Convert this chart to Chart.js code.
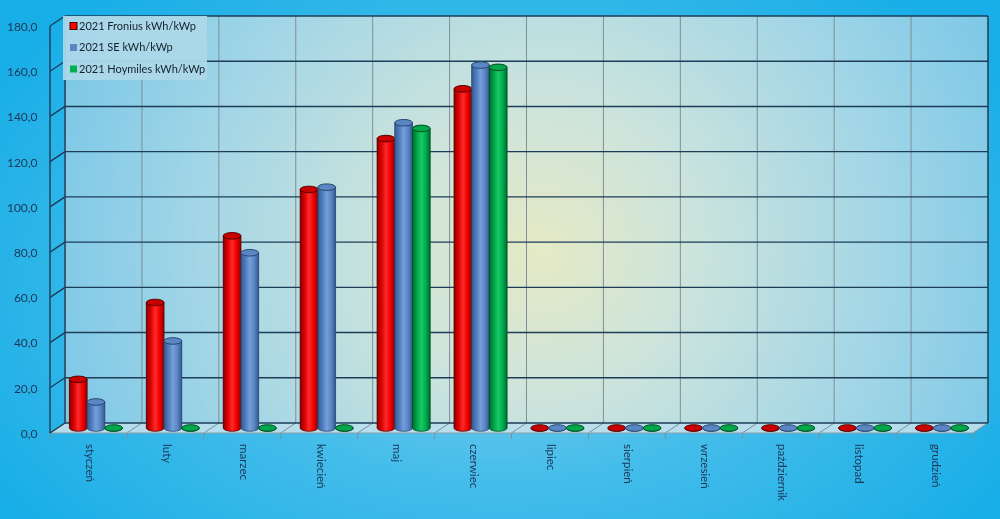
<!DOCTYPE html>
<html lang="pl">
<head>
<meta charset="utf-8">
<title>Uzysk kWh/kWp 2021</title>
<script src="https://cdn.jsdelivr.net/npm/chart.js@4.4.1/dist/chart.umd.min.js"></script>
<style>
  html, body { margin: 0; padding: 0; overflow: hidden; }
  #wrap {
    width: 1000px; height: 519px; position: relative;
    background: radial-gradient(ellipse 60% 75% at 50% 55%, #86d2ef 0%, #45bdea 50%, #18aee7 100%);
  }
  canvas { display: block; }
</style>
</head>
<body>
<div id="wrap"><canvas id="c" width="1000" height="519"></canvas></div>
<script>
// Miesiące i uzysk energii na kWp zainstalowanej mocy
const months = ['styczeń', 'luty', 'marzec', 'kwiecień', 'maj', 'czerwiec',
                'lipiec', 'sierpień', 'wrzesień', 'październik', 'listopad', 'grudzień'];
const fronius  = [21.5, 55.5, 85.0, 105.5, 128.0, 150.0, 0, 0, 0, 0, 0, 0];
const se       = [11.5, 38.5, 77.5, 106.5, 135.0, 160.5, 0, 0, 0, 0, 0, 0];
const hoymiles = [0, 0, 0, 0, 132.5, 159.5, 0, 0, 0, 0, 0, 0];
const seriesLabels = ['2021 Fronius kWh/kWp', '2021 SE kWh/kWp', '2021 Hoymiles kWh/kWp'];
const yMin = 0, yMax = 180, yStep = 20;

// Wygląd serii: kolor bazowy, cieniowanie walca, denko
const looks = [
  { base: '#ff0000', stops: ['#8c0000', '#d80000', '#ff2a2a', '#f20000', '#900000'], cap: '#c80000', edge: '#5a0000' },
  { base: '#5b86c6', stops: ['#345a92', '#4f7bbd', '#739fdb', '#5a86c5', '#33588f'], cap: '#5a86c4', edge: '#28466f' },
  { base: '#00b050', stops: ['#006e30', '#00a348', '#18c865', '#00ad4e', '#006a2e'], cap: '#00a64a', edge: '#004d20' }
];

// Przesunięcie głębi: tylna ściana i przednia krawędź względem płaszczyzny słupków
const DX = 7.5, DY = 5;
const FONT = 'Lato, "Open Sans", sans-serif';
const TEXT = '#1d3656';

const fmt = v => v.toFixed(1).replace('.', ',');

// Tło wykresu: tylna ściana, siatka, podłoga
const wallsPlugin = {
  id: 'walls',
  beforeDatasetsDraw(chart) {
    const { ctx, chartArea: ca } = chart;
    const ys = chart.scales.y, xs = chart.scales.x;
    const y0 = ys.getPixelForValue(yMin), yT = ys.getPixelForValue(yMax);
    const L = ca.left + DX, R = ca.right + DX, T = yT - DY, B = y0 - DY;
    ctx.save();
    // tylna ściana
    const g = ctx.createRadialGradient(540, 250, 10, 540, 250, 560);
    g.addColorStop(0, '#e4e9c6');
    g.addColorStop(0.25, '#cde4dc');
    g.addColorStop(0.6, '#a3d6e6');
    g.addColorStop(1, '#6fc3e8');
    ctx.fillStyle = g;
    ctx.fillRect(L, T, R - L, B - T);

    // podłoga
    ctx.beginPath();
    ctx.moveTo(L, B); ctx.lineTo(R, B);
    ctx.lineTo(ca.right - DX, y0 + DY); ctx.lineTo(ca.left - DX, y0 + DY);
    ctx.closePath();
    ctx.fillStyle = 'rgba(205,228,236,0.85)';
    ctx.fill();

    // pionowe linie siatki (granice kategorii)
    const step = (ca.right - ca.left) / months.length;
    ctx.strokeStyle = '#7f8f96';
    ctx.lineWidth = 1;
    for (let i = 0; i <= months.length; i++) {
      const xb = (i < months.length ? xs.getPixelForValue(i) - step / 2 : xs.getPixelForValue(i - 1) + step / 2);
      ctx.beginPath();
      ctx.moveTo(xb + DX, T); ctx.lineTo(xb + DX, B);
      ctx.stroke();
      // podział podłogi i znaczniki na przedniej krawędzi
      ctx.beginPath();
      ctx.moveTo(xb + DX, B); ctx.lineTo(xb - DX, y0 + DY); ctx.lineTo(xb - DX, y0 + DY + 6);
      ctx.stroke();
    }
    // krawędzie podłogi
    ctx.strokeStyle = '#8d9ea6';
    ctx.beginPath();
    ctx.moveTo(ca.left - DX, y0 + DY); ctx.lineTo(ca.right - DX, y0 + DY); ctx.lineTo(R, B);
    ctx.stroke();

    // poziome linie siatki na ścianie tylnej i ich łączniki po lewej stronie
    ctx.strokeStyle = '#1c3c58';
    ctx.lineWidth = 1.4;
    ys.ticks.forEach(t => {
      const p = ys.getPixelForValue(t.value);
      ctx.beginPath();
      ctx.moveTo(L, p - DY); ctx.lineTo(R, p - DY);
      ctx.stroke();
      ctx.beginPath();
      ctx.moveTo(ca.left - DX, p + DY); ctx.lineTo(L, p - DY);
      ctx.stroke();
    });
    // krawędzie: oś przednia, lewa i prawa krawędź ściany
    ctx.beginPath();
    ctx.moveTo(ca.left - DX, yT + DY); ctx.lineTo(ca.left - DX, y0 + DY);
    ctx.moveTo(L, T); ctx.lineTo(L, B);
    ctx.moveTo(R, T); ctx.lineTo(R, B);
    ctx.stroke();
    ctx.restore();
  }
};

// Słupki w kształcie walców, rysowane na elementach słupków biblioteki
const cylinderPlugin = {
  id: 'cylinders',
  afterDatasetsDraw(chart) {
    const ctx = chart.ctx;
    chart.data.datasets.forEach((ds, di) => {
      const meta = chart.getDatasetMeta(di);
      const look = looks[di];
      meta.data.forEach(el => {
        const { x, y, base, width } = el.getProps(['x', 'y', 'base', 'width'], true);
        const rx = width / 2, ry = 3.3;
        const left = x - rx, right = x + rx;
        ctx.save();
        const g = ctx.createLinearGradient(left, 0, right, 0);
        look.stops.forEach((c, k) => g.addColorStop(k / (look.stops.length - 1), c));
        ctx.beginPath();
        ctx.moveTo(left, y);
        ctx.lineTo(left, base);
        ctx.ellipse(x, base, rx, ry, 0, Math.PI, 0, true);
        ctx.lineTo(right, y);
        ctx.closePath();
        ctx.fillStyle = g;
        ctx.fill();
        ctx.strokeStyle = look.edge;
        ctx.lineWidth = 0.8;
        ctx.stroke();
        // denko górne
        ctx.beginPath();
        ctx.ellipse(x, y, rx, ry, 0, 0, Math.PI * 2);
        ctx.fillStyle = look.cap;
        ctx.fill();
        ctx.strokeStyle = look.edge;
        ctx.lineWidth = 1;
        ctx.stroke();
        ctx.restore();
      });
    });
  }
};

// Podpisy osi: wartości po lewej i miesiące obrócone o 90°
const axisLabelsPlugin = {
  id: 'axisLabels',
  afterDraw(chart) {
    const ctx = chart.ctx, xs = chart.scales.x, ys = chart.scales.y;
    const ca = chart.chartArea;
    ctx.save();
    ctx.fillStyle = TEXT;
    // wartości osi Y na przedniej krawędzi
    ctx.font = '12px ' + FONT;
    ctx.textAlign = 'right';
    ctx.textBaseline = 'middle';
    ys.ticks.forEach(t => {
      ctx.fillText(fmt(t.value), ca.left - 20, ys.getPixelForValue(t.value) + DY + 1);
    });
    // miesiące
    const top = ys.getPixelForValue(yMin) + DY + 11;
    ctx.font = '11.5px ' + FONT;
    ctx.textAlign = 'left';
    months.forEach((m, i) => {
      ctx.save();
      ctx.translate(xs.getPixelForValue(i) - DX + 1, top);
      ctx.rotate(Math.PI / 2);
      ctx.fillText(m, 0, 0);
      ctx.restore();
    });
    ctx.restore();
  }
};

// Legenda w lewym górnym rogu obszaru wykresu
const legendPlugin = {
  id: 'boxLegend',
  afterDraw(chart) {
    const ctx = chart.ctx;
    const bx = 63, by = 16, bw = 144, bh = 64;
    ctx.save();
    ctx.fillStyle = 'rgba(172,216,233,0.95)';
    ctx.fillRect(bx, by, bw, bh);
    ctx.font = '11px ' + FONT;
    ctx.textBaseline = 'middle';
    ctx.textAlign = 'left';
    chart.data.datasets.forEach((ds, i) => {
      const cy = by + 10 + i * 21.5;
      ctx.fillStyle = ds.backgroundColor;
      ctx.fillRect(bx + 7, cy - 3.5, 7, 7);
      if (i === 0) {
        ctx.strokeStyle = '#3a0000';
        ctx.lineWidth = 1;
        ctx.strokeRect(bx + 7, cy - 3.5, 7, 7);
      }
      ctx.fillStyle = '#14202c';
      ctx.fillText(ds.label, bx + 16, cy);
    });
    ctx.restore();
  }
};

new Chart(document.getElementById('c'), {
  type: 'bar',
  data: {
    labels: months,
    datasets: [
      { label: seriesLabels[0], data: fronius,  backgroundColor: looks[0].base },
      { label: seriesLabels[1], data: se,       backgroundColor: looks[1].base },
      { label: seriesLabels[2], data: hoymiles, backgroundColor: looks[2].base }
    ]
  },
  options: {
    responsive: false,
    devicePixelRatio: 1,
    animation: false,
    layout: { padding: { top: 21, right: 19.5, left: 0, bottom: 0 } },
    datasets: { bar: { categoryPercentage: 0.69, barPercentage: 1.0, borderWidth: 0 } },
    plugins: { legend: { display: false }, tooltip: { enabled: false } },
    scales: {
      x: {
        ticks: { display: false },
        grid: { display: false, drawTicks: false },
        border: { display: false },
        afterFit(s) { s.height = 91; }
      },
      y: {
        min: yMin, max: yMax,
        ticks: { stepSize: yStep, display: false },
        grid: { display: false, drawTicks: false },
        border: { display: false },
        afterFit(s) { s.width = 57.5; }
      }
    }
  },
  plugins: [wallsPlugin, cylinderPlugin, axisLabelsPlugin, legendPlugin]
});
</script>
</body>
</html>
